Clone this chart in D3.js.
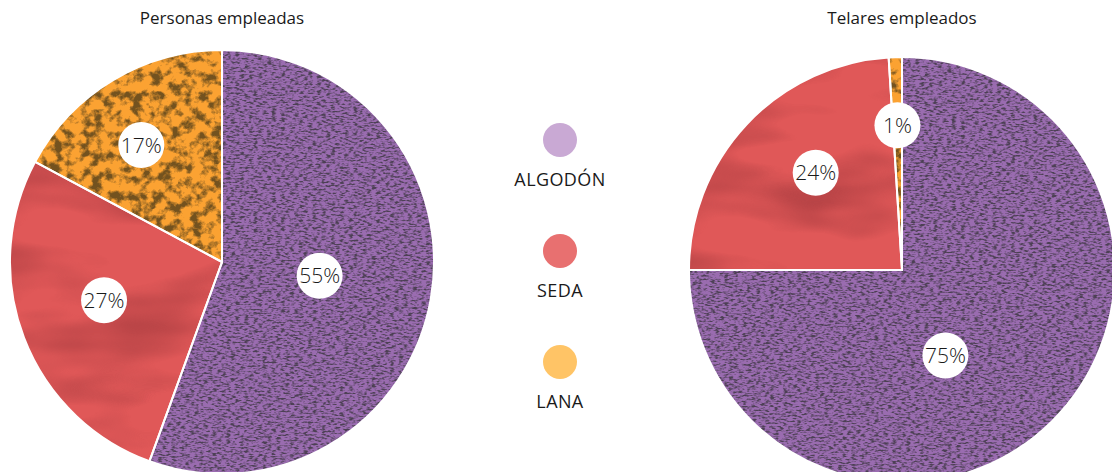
<!DOCTYPE html>
<html>
<head>
<meta charset="utf-8">
<script src="https://cdn.jsdelivr.net/npm/d3@7"></script>
<style>
  body { margin: 0; background: #fff; }
  svg { display: block; font-family: "Open Sans", "Noto Sans", sans-serif; }
</style>
</head>
<body>
<svg id="chart"></svg>
<script>
// Data
const materials = ["ALGODÓN", "SEDA", "LANA"];
const personas = [55, 27, 17];
const telares = [75, 24, 1];
const titles = ["Personas empleadas", "Telares empleados"];

const width = 1112;
const height = 472;
const legendColors = ["#c9a9d4", "#e87070", "#ffc466"];
const textures = ["tex-cotton", "tex-silk", "tex-wool"];

const svg = d3.select("#chart").attr("width", width).attr("height", height);
const defs = svg.append("defs");

// texture filters: noise mapped to a dark overlay, clipped to the slice
function noiseFilter(id, type, freq, octaves, seed, rgb, gain, bias) {
  const f = defs.append("filter").attr("id", id)
    .attr("color-interpolation-filters", "sRGB")
    .attr("x", "0%").attr("y", "0%").attr("width", "100%").attr("height", "100%");
  f.append("feTurbulence")
    .attr("type", type)
    .attr("baseFrequency", freq)
    .attr("numOctaves", octaves)
    .attr("seed", seed)
    .attr("result", "noise");
  f.append("feColorMatrix")
    .attr("in", "noise")
    .attr("type", "matrix")
    .attr("values", `0 0 0 0 ${rgb[0]}  0 0 0 0 ${rgb[1]}  0 0 0 0 ${rgb[2]}  ${gain} 0 0 0 ${bias}`)
    .attr("result", "tone");
  f.append("feComposite").attr("in", "tone").attr("in2", "SourceGraphic")
    .attr("operator", "in").attr("result", "clip");
  const m = f.append("feMerge");
  m.append("feMergeNode").attr("in", "SourceGraphic");
  m.append("feMergeNode").attr("in", "clip");
  return f;
}

noiseFilter("tex-cotton", "fractalNoise", "0.22 0.55", 2, 3, [0.3, 0.25, 0.33], 3.6, -1.6);
noiseFilter("tex-silk", "fractalNoise", "0.006 0.018", 3, 7, [0.55, 0.18, 0.2], 1.5, -0.68);
noiseFilter("tex-wool", "fractalNoise", "0.1", 4, 11, [0.45, 0.32, 0.12], 4.0, -1.75);

const baseFill = ["#9a6cb0", "#e05858", "#fba232"];

const charts = [
  { values: personas, title: titles[0], cx: 222, cy: 262, r: 212,
    labelR: [0.465, 0.585, 0.67], labelT: [0.49, 0.53, 0.44] },
  { values: telares, title: titles[1], cx: 902, cy: 270, r: 213,
    labelR: [0.45, 0.61, 0.68], labelT: [0.567, 0.56, 0.5] }
];

const pie = d3.pie().sort(null).value(d => d);

charts.forEach(c => {
  const g = svg.append("g").attr("transform", `translate(${c.cx},${c.cy})`);
  const arcs = pie(c.values);
  const arc = d3.arc().innerRadius(0).outerRadius(c.r);

  g.selectAll("path.slice")
    .data(arcs)
    .enter()
    .append("path")
    .attr("class", "slice")
    .attr("d", arc)
    .attr("fill", (d, i) => baseFill[i])
    .attr("filter", (d, i) => `url(#${textures[i]})`);

  // white separators drawn on top of the texture
  g.selectAll("path.edge")
    .data(arcs)
    .enter()
    .append("path")
    .attr("class", "edge")
    .attr("d", arc)
    .attr("fill", "none")
    .attr("stroke", "#fff")
    .attr("stroke-width", 2);

  const labels = g.selectAll("g.lbl")
    .data(arcs)
    .enter()
    .append("g")
    .attr("class", "lbl")
    .attr("transform", (d, i) => {
      const a = d.startAngle + (d.endAngle - d.startAngle) * c.labelT[i];
      const rr = c.r * c.labelR[i];
      return `translate(${Math.sin(a) * rr},${-Math.cos(a) * rr})`;
    });
  labels.append("circle").attr("r", 23).attr("fill", "#fff");
  labels.append("text")
    .attr("text-anchor", "middle")
    .attr("dy", "0.36em")
    .attr("font-size", 21)
    .attr("font-weight", 300)
    .attr("fill", "#1a1a1a")
    .text(d => d.data + "%");

  svg.append("text")
    .attr("x", c.cx)
    .attr("y", 24)
    .attr("text-anchor", "middle")
    .attr("font-size", 17)
    .attr("fill", "#1a1a1a")
    .text(c.title);
});

// Legend
const legendY = d3.scalePoint().domain(materials).range([140, 362]);
const leg = svg.selectAll("g.legend")
  .data(materials)
  .enter()
  .append("g")
  .attr("class", "legend")
  .attr("transform", d => `translate(560,${legendY(d)})`);
leg.append("circle").attr("r", 17).attr("fill", (d, i) => legendColors[i]);
leg.append("text")
  .attr("y", 46)
  .attr("text-anchor", "middle")
  .attr("font-size", 18)
  .attr("letter-spacing", 0.4)
  .attr("fill", "#1a1a1a")
  .text(d => d);
</script>
</body>
</html>
